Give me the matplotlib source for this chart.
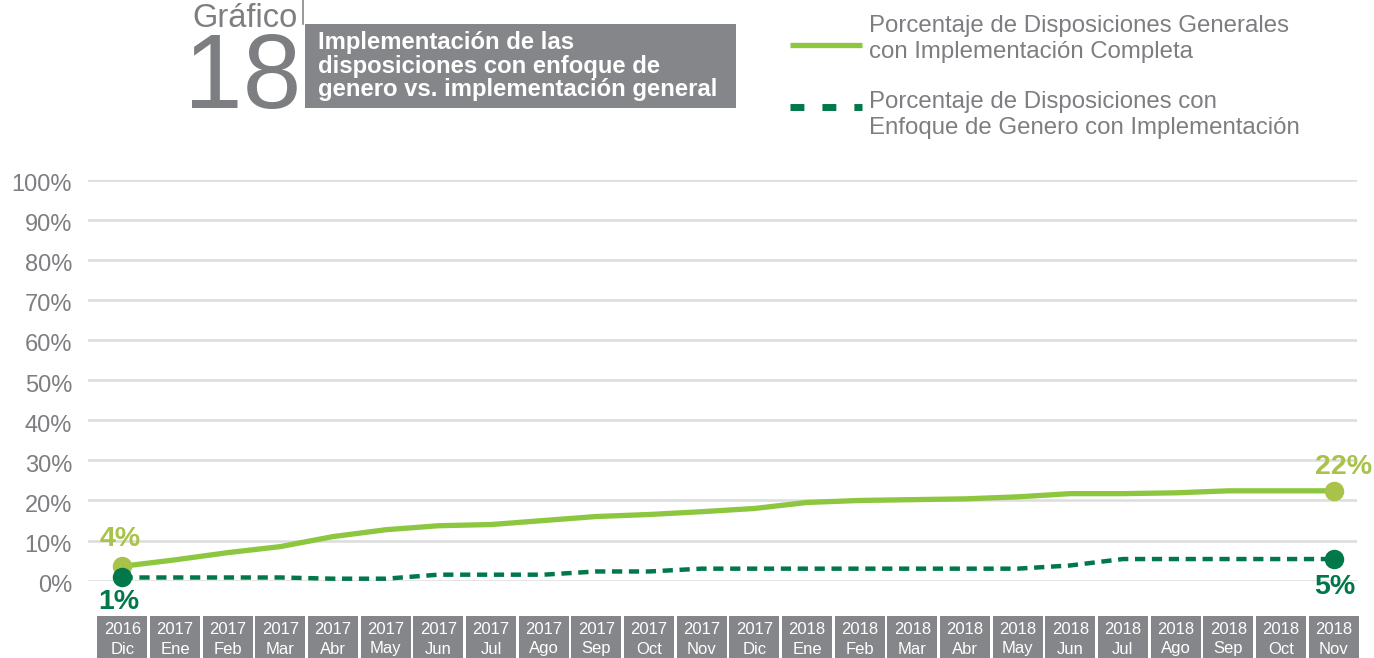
import matplotlib
matplotlib.use("Agg")
import matplotlib.pyplot as plt
from matplotlib.patches import Rectangle
from matplotlib.transforms import blended_transform_factory, ScaledTranslation

# ---- data -------------------------------------------------------------
years = ["2016"] + ["2017"] * 12 + ["2018"] * 11
months = ["Dic", "Ene", "Feb", "Mar", "Abr", "May", "Jun", "Jul", "Ago", "Sep",
          "Oct", "Nov", "Dic", "Ene", "Feb", "Mar", "Abr", "May", "Jun", "Jul",
          "Ago", "Sep", "Oct", "Nov"]
general = [3.6, 5.2, 7.0, 8.5, 11.0, 12.7, 13.7, 14.0, 15.0, 16.0, 16.5, 17.2,
           18.0, 19.5, 20.0, 20.2, 20.4, 20.9, 21.7, 21.7, 21.9, 22.4, 22.4, 22.4]
genero = [0.8, 0.8, 0.8, 0.8, 0.5, 0.5, 1.5, 1.5, 1.5, 2.3, 2.3, 3.0,
          3.0, 3.0, 3.0, 3.0, 3.0, 3.0, 3.8, 5.4, 5.4, 5.4, 5.4, 5.4]
yticks = list(range(0, 101, 10))
legend_labels = ["Porcentaje de Disposiciones Generales\ncon Implementación Completa",
                 "Porcentaje de Disposiciones con\nEnfoque de Genero con Implementación"]
title_word = "Gráfico"
title_num = "18"
title_text = "Implementación de las\ndisposiciones con enfoque de\ngenero vs. implementación general"

# ---- style ------------------------------------------------------------
W, H = 1374, 658
FONT = "Liberation Sans"
GRAY_TXT = "#7d7e81"
GRAY_BOX = "#858689"
LIGHT = "#8dc63f"
LIGHT_MK = "#a9c24a"
DARK = "#00784a"

plt.rcParams["font.family"] = [FONT, "DejaVu Sans"]

fig = plt.figure(figsize=(W / 100, H / 100), dpi=100)


def fx(px):
    return px / W


def fy(py):
    return 1 - py / H


# ---- main plot --------------------------------------------------------
ax = fig.add_axes([fx(88), fy(580.7), fx(1357) - fx(88), fy(179.5) - fy(580.7)])
x = list(range(len(months)))
ax.set_xlim(-0.655, 23.446)
ax.set_ylim(0, 100)
for s in ax.spines.values():
    s.set_visible(False)
ax.set_xticks([])
ax.set_yticks(yticks)
ax.set_yticklabels([f"{v}%" for v in yticks], fontsize=17, color=GRAY_TXT)
ax.tick_params(axis="y", length=0, pad=11.5)
for lab in ax.get_yticklabels():
    lab.set_transform(lab.get_transform() + ScaledTranslation(0, -3 / 100, fig.dpi_scale_trans))
ax.yaxis.grid(True, color="#dcdcdc", lw=1.8)
ax.set_axisbelow(True)

ax.plot(x, general, color=LIGHT, lw=3.8, solid_capstyle="butt", clip_on=False, zorder=3)
ax.plot(x, genero, color=DARK, lw=3.2, dashes=(2.3, 1.5), dash_capstyle="butt",
        clip_on=False, zorder=3)

# end-point markers and value labels
for i in (0, len(x) - 1):
    ax.plot(x[i], general[i], "o", ms=13, color=LIGHT_MK, clip_on=False, zorder=4)
    ax.plot(x[i], genero[i], "o", ms=13, color=DARK, clip_on=False, zorder=5)

lbl = dict(textcoords="offset points", ha="center", fontsize=20.5, fontweight="bold")
ax.annotate(f"{round(general[0])}%", (x[0], general[0]), xytext=(-2, 10),
            va="bottom", color=LIGHT_MK, **lbl)
ax.annotate(f"{round(genero[0])}%", (x[0], genero[0]), xytext=(-3, -8),
            va="top", color=DARK, **lbl)
ax.annotate(f"{round(general[-1])}%", (x[-1], general[-1]), xytext=(7, 8),
            va="bottom", color=LIGHT_MK, **lbl)
ax.annotate(f"{round(genero[-1])}%", (x[-1], genero[-1]), xytext=(1, -11),
            va="top", color=DARK, **lbl)

# category boxes along the bottom
bt = blended_transform_factory(ax.transData, fig.transFigure)
for i, (yr, mo) in enumerate(zip(years, months)):
    ax.add_patch(Rectangle((i - 0.475, -0.05), 0.95, fy(616) + 0.05, transform=bt,
                           facecolor=GRAY_BOX, edgecolor="none", clip_on=False))
    ax.text(i, fy(630), yr, transform=bt, ha="center", va="center",
            fontsize=12, color="white")
    ax.text(i, fy(649), mo, transform=bt, ha="center", va="center",
            fontsize=12, color="white")

# ---- header: title block and legend -------------------------------------
ov = fig.add_axes([0, 0, 1, 1], zorder=-1)
ov.set_xlim(0, W)
ov.set_ylim(H, 0)
ov.axis("off")

ov.text(192, 27, title_word, fontsize=23.5, color=GRAY_TXT, ha="left", va="baseline")
ov.text(184, 108, title_num, fontsize=76, color=GRAY_TXT, ha="left", va="baseline")
ov.plot([303, 303], [0, 24], color=GRAY_BOX, lw=1.2)
ov.add_patch(Rectangle((305, 24), 431, 84, facecolor=GRAY_BOX, edgecolor="none"))
ov.text(318, 66, title_text, fontsize=17.2, fontweight="bold", color="white",
        ha="left", va="center", linespacing=1.05)

ov.plot([790, 862], [45, 45], color=LIGHT, lw=3.8, solid_capstyle="butt")
ov.plot([790, 862], [107, 107], color=DARK, lw=5, dashes=(2.0, 2.6), dash_capstyle="butt")
ov.text(869, 39, legend_labels[0], fontsize=17.3, color=GRAY_TXT, ha="left",
        va="center", linespacing=1.25)
ov.text(869, 115, legend_labels[1], fontsize=17.3, color=GRAY_TXT, ha="left",
        va="center", linespacing=1.25)

fig.savefig("out.png", dpi=100)
